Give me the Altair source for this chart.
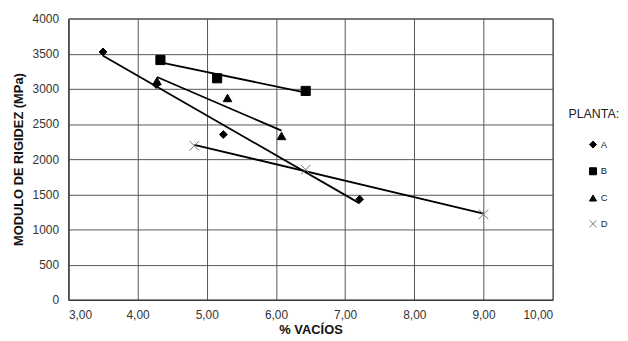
import altair as alt
import pandas as pd

# Data
a_x = [3.50, 4.27, 5.24, 7.21]
a_y = [3525, 3060, 2350, 1430]
b_x = [4.33, 5.15, 6.43]
b_y = [3410, 3150, 2970]
c_x = [4.28, 5.30, 6.08]
c_y = [3110, 2870, 2330]
d_x = [4.82, 6.43, 9.00]
d_y = [2190, 1850, 1215]

plantas = ["A", "B", "C", "D"]
x_ticks = [3, 4, 5, 6, 7, 8, 9, 10]
y_ticks = [0, 500, 1000, 1500, 2000, 2500, 3000, 3500, 4000]

rows = []
for name, xs, ys in zip(plantas, [a_x, b_x, c_x, d_x], [a_y, b_y, c_y, d_y]):
    for xv, yv in zip(xs, ys):
        rows.append({"planta": name, "vacios": xv, "modulo": yv})
df = pd.DataFrame(rows)

FONT = "Liberation Sans"
xpath = "M-1,-1L1,1M-1,1L1,-1"

xenc = alt.X("vacios:Q", scale=alt.Scale(domain=[3, 10], nice=False),
             axis=alt.Axis(values=x_ticks, title="% VACÍOS",
                           labelExpr="replace(format(datum.value, '.2f'), '.', ',')"))
yenc = alt.Y("modulo:Q", scale=alt.Scale(domain=[0, 4000], nice=False),
             axis=alt.Axis(values=y_ticks, title="MODULO DE RIGIDEZ (MPa)",
                           format="d"))

legend = alt.Legend(title="PLANTA:", orient="none", legendX=505, legendY=90,
                    rowPadding=15, symbolSize=50, labelFontSize=9.5,
                    titleFontSize=12.5, titleFontWeight="normal", titlePadding=20,
                    symbolStrokeWidth=1, symbolOffset=20, labelOffset=3,
                    titleColor="#222", labelColor="#222", padding=0)

base = alt.Chart(df).encode(x=xenc, y=yenc)

points = base.mark_point(opacity=1, strokeWidth=1).encode(
    shape=alt.Shape("planta:N", scale=alt.Scale(domain=plantas,
                    range=["diamond", "square", "triangle-up", xpath]), legend=legend),
    fill=alt.Fill("planta:N", scale=alt.Scale(domain=plantas,
                  range=["#000", "#000", "#000", "transparent"]), legend=legend),
    stroke=alt.Stroke("planta:N", scale=alt.Scale(domain=plantas,
                      range=["#000", "#000", "#000", "#777"]), legend=legend),
    size={"condition": [{"test": "datum.planta == 'B'", "value": 85},
                        {"test": "datum.planta == 'D'", "value": 95},
                        {"test": "datum.planta == 'C'", "value": 75}],
          "value": 62},
)

lines = base.transform_regression(
    "vacios", "modulo", groupby=["planta"]
).mark_line(color="#000", strokeWidth=1.8).encode(detail="planta:N")

chart = alt.layer(lines, points).properties(
    width=489, height=284, padding={"left": 4, "top": 3, "right": 0, "bottom": 0}
).configure_view(stroke="#333", strokeWidth=1).configure_axis(
    labelFont=FONT, titleFont=FONT, labelFontSize=12, titleFontSize=13,
    titleFontWeight="bold", labelColor="#333", titleColor="#111",
    gridColor="#555", gridOpacity=1, gridWidth=1, domainColor="#333",
    ticks=False, labelPadding=10, domain=True
).configure_axisY(titlePadding=7).configure_axisX(titlePadding=3
).configure_legend(labelFont=FONT, titleFont=FONT)

chart.save("out.html", embed_options={"renderer": "svg", "actions": False})
